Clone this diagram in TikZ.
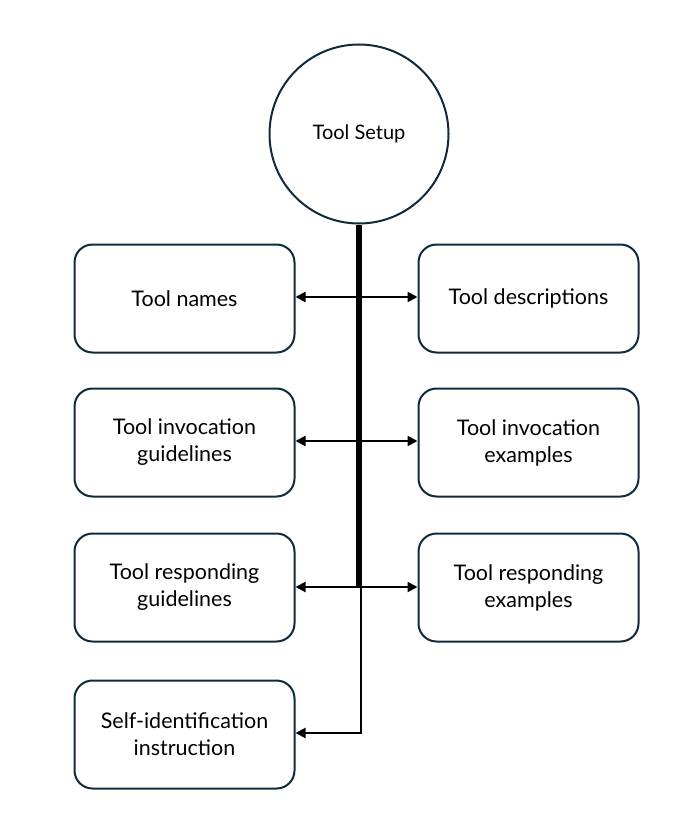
\documentclass[tikz,border=0pt]{standalone}
\usepackage{fontspec}
\setmainfont{Lato}
\usetikzlibrary{arrows.meta,calc}
\definecolor{edge}{HTML}{0E2A3B}
\begin{document}
\begin{tikzpicture}[x=1pt,y=-1pt,
  topic/.style={draw=edge,line width=2pt,rounded corners=18pt,minimum width=220pt,minimum height=108pt,align=center,font=\fontsize{21.5}{27}\selectfont,inner sep=0pt},
  hub/.style={draw=edge,line width=2pt,circle,minimum size=179pt,font=\fontsize{20}{24}\selectfont,inner sep=0pt},
  link/.style={line width=2pt,-{Triangle[length=10pt,width=10pt]}},
  trunk/.style={line width=5.5pt}]
\useasboundingbox (0,0) rectangle (699,821);
\node[hub] (c) at (359,134) {Tool Setup};
\node[topic] (l1) at (184.5,298.5) {Tool names};
\node[topic] (r1) at (528.5,298.5) {Tool descriptions};
\node[topic] (l2) at (184.5,442.5) {Tool invocation\\guidelines};
\node[topic] (r2) at (528.5,442.5) {Tool invocation\\examples};
\node[topic] (l3) at (184.5,587.5) {Tool responding\\guidelines};
\node[topic] (r3) at (528.5,587.5) {Tool responding\\examples};
\node[topic] (l4) at (184.5,734.5) {Self-identification\\instruction};
\coordinate (j1) at (358.5,297);
\coordinate (j2) at (358.5,441);
\coordinate (j3) at (358.5,587);
\coordinate (k3) at (360.5,587);
\coordinate (k4) at (360.5,733);
\draw[trunk] (c.south) -- (c.south |- j3);
\draw[link] (j1) -- (l1.east |- j1);
\draw[link] (j1) -- (r1.west |- j1);
\draw[link] (j2) -- (l2.east |- j2);
\draw[link] (j2) -- (r2.west |- j2);
\draw[link] (j3) -- (l3.east |- j3);
\draw[link] (j3) -- (r3.west |- j3);
\draw[link] (k3) -- (k4) -- (l4.east |- k4);
\end{tikzpicture}
\end{document}
